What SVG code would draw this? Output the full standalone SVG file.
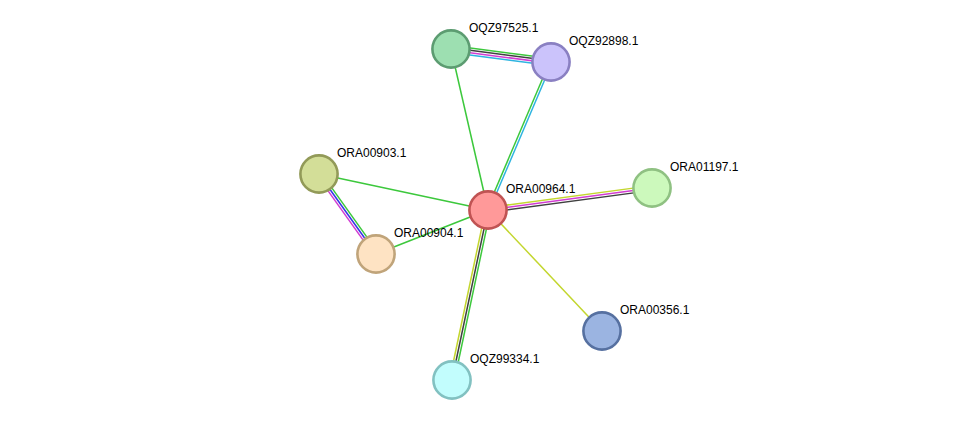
<svg xmlns="http://www.w3.org/2000/svg" width="976" height="426" viewBox="0 0 976 426">
<style>
.e line{stroke-width:1.5;fill:none}
.g{stroke:#3cc83c}
.y{stroke:#c3d62e}
.m{stroke:#d23cd2}
.c{stroke:#2eb4e0}
.k{stroke:#404040}
.b{stroke:#3535e6}
.n circle{stroke-width:2.6}
text{font-family:"Liberation Sans",Arial,sans-serif;font-size:12px;fill:#000}
</style>
<rect width="976" height="426" fill="#fff"/>
<g id="connectors" class="e">
  <!-- OQZ97525.1 - OQZ92898.1 -->
  <g transform="translate(451,49) rotate(7.41)">
    <line class="g" x1="0" y1="-3.5" x2="100.8" y2="-3.5"/>
    <line class="k" x1="0" y1="-1.2" x2="100.8" y2="-1.2"/>
    <line class="m" x1="0" y1="1.2" x2="100.8" y2="1.2"/>
    <line class="c" x1="0" y1="3.5" x2="100.8" y2="3.5"/>
  </g>
  <!-- OQZ97525.1 - ORA00964.1 -->
  <line class="g" x1="451" y1="49" x2="488" y2="210"/>
  <!-- ORA00964.1 - OQZ92898.1 -->
  <g transform="translate(488,210) rotate(-66.94)">
    <line class="g" x1="0" y1="-1.2" x2="160.8" y2="-1.2"/>
    <line class="c" x1="0" y1="1.2" x2="160.8" y2="1.2"/>
  </g>
  <!-- ORA00903.1 - ORA00964.1 -->
  <line class="g" x1="319" y1="174" x2="488" y2="210"/>
  <!-- ORA00903.1 - ORA00904.1 -->
  <g transform="translate(319,174) rotate(54.52)">
    <line class="g" x1="0" y1="-2.4" x2="98.2" y2="-2.4"/>
    <line class="b" x1="0" y1="0" x2="98.2" y2="0"/>
    <line class="m" x1="0" y1="2.4" x2="98.2" y2="2.4"/>
  </g>
  <!-- ORA00904.1 - ORA00964.1 -->
  <line class="g" x1="376" y1="254" x2="488" y2="210"/>
  <!-- ORA00964.1 - ORA01197.1 -->
  <g transform="translate(488,210) rotate(-7.64)">
    <line class="y" x1="0" y1="-2.4" x2="165.5" y2="-2.4"/>
    <line class="m" x1="0" y1="0" x2="165.5" y2="0"/>
    <line class="k" x1="0" y1="2.4" x2="165.5" y2="2.4"/>
  </g>
  <!-- ORA00964.1 - OQZ99334.1 -->
  <g transform="translate(488,210) rotate(101.96)">
    <line class="g" x1="0" y1="-2.4" x2="173.8" y2="-2.4"/>
    <line class="k" x1="0" y1="0" x2="173.8" y2="0"/>
    <line class="y" x1="0" y1="2.4" x2="173.8" y2="2.4"/>
  </g>
  <!-- ORA00964.1 - ORA00356.1 -->
  <line class="y" x1="488" y1="210" x2="602" y2="331"/>
</g>
<g id="OQZ97525.1" class="n">
  <circle cx="451" cy="49" r="18.6" fill="#9ddfb1" stroke="#5c9c71"/>
  <text x="469" y="32">OQZ97525.1</text>
</g>
<g id="OQZ92898.1" class="n">
  <circle cx="551" cy="62" r="18.6" fill="#cbc3fb" stroke="#8a80c2"/>
  <text x="569" y="45">OQZ92898.1</text>
</g>
<g id="ORA00903.1" class="n">
  <circle cx="319" cy="174" r="18.6" fill="#d3de98" stroke="#929a58"/>
  <text x="337" y="157">ORA00903.1</text>
</g>
<g id="ORA00964.1" class="n">
  <circle cx="488" cy="210" r="18.6" fill="#ff9999" stroke="#c05353"/>
  <text x="506" y="193">ORA00964.1</text>
</g>
<g id="ORA01197.1" class="n">
  <circle cx="652" cy="188" r="18.6" fill="#ccf9bc" stroke="#8fc182"/>
  <text x="670" y="171">ORA01197.1</text>
</g>
<g id="ORA00904.1" class="n">
  <circle cx="376" cy="254" r="18.6" fill="#fee3c3" stroke="#c0a47a"/>
  <text x="394" y="237">ORA00904.1</text>
</g>
<g id="ORA00356.1" class="n">
  <circle cx="602" cy="331" r="18.6" fill="#9bb4e1" stroke="#5670a0"/>
  <text x="620" y="314">ORA00356.1</text>
</g>
<g id="OQZ99334.1" class="n">
  <circle cx="452" cy="380" r="18.6" fill="#c2fdfd" stroke="#82c1c1"/>
  <text x="470" y="363">OQZ99334.1</text>
</g>
</svg>
